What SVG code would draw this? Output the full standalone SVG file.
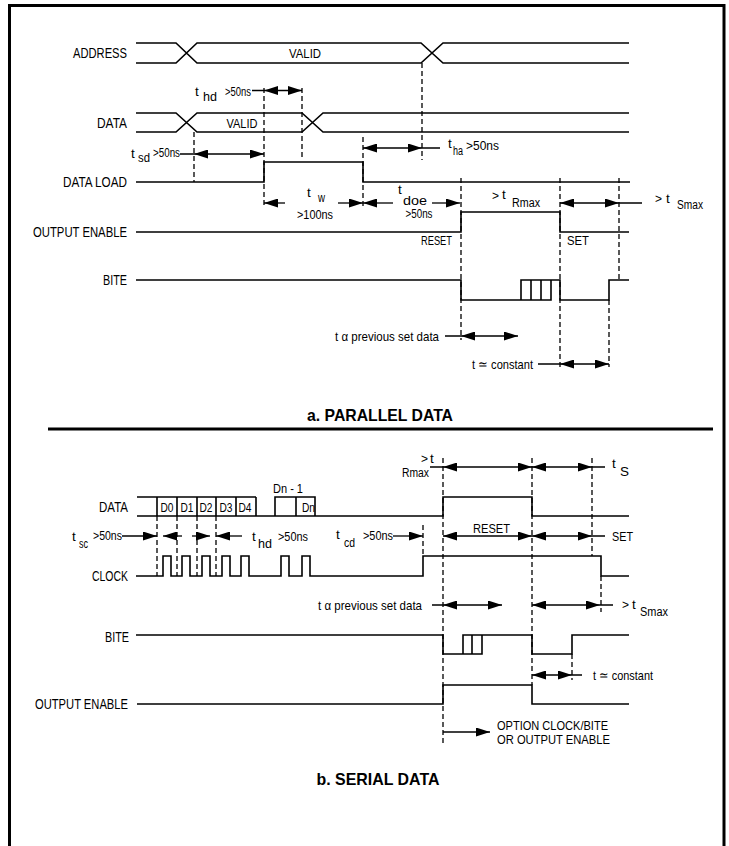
<svg xmlns="http://www.w3.org/2000/svg" width="729" height="846" viewBox="0 0 729 846">
<defs>
<marker id="ah" viewBox="0 0 14 9" refX="14" refY="4.5" markerWidth="14" markerHeight="9" markerUnits="userSpaceOnUse" orient="auto-start-reverse"><path d="M0,0 L14,4.5 L0,9 z" fill="#000"/></marker>
</defs>
<style>
.sig{fill:none;stroke:#000;stroke-width:1.6}
.dash{fill:none;stroke:#000;stroke-width:1.3;stroke-dasharray:5,3}
.arr{fill:none;stroke:#000;stroke-width:1.3}
.ab{marker-start:url(#ah);marker-end:url(#ah)}
.ae{marker-end:url(#ah)}
.as{marker-start:url(#ah)}
text{font-family:"Liberation Sans",Arial,sans-serif;fill:#000}
.lb{font-size:14px;text-anchor:end}
.t{font-size:13.5px}
.s{font-size:12px}
.m{text-anchor:middle}
.e{text-anchor:end}
.ttl{font-size:16.5px;font-weight:bold;text-anchor:middle}
</style>
<rect width="729" height="846" fill="#fff"/>
<path d="M9.5,846 V5.5 H724 V846" fill="none" stroke="#000" stroke-width="3"/>
<line x1="48" y1="429" x2="713" y2="429" stroke="#000" stroke-width="3"/>

<!-- PARALLEL -->
<g id="p-address">
<text class="lb" x="127" y="58" textLength="54" lengthAdjust="spacingAndGlyphs">ADDRESS</text>
<path class="sig" d="M136,43 H176 L197,63 H421 L443,43 H629 M136,63 H176 L197,43 H421 L443,63 H629"/>
<text class="t m" x="305" y="58" textLength="32" lengthAdjust="spacingAndGlyphs">VALID</text>
</g>
<g id="p-data">
<text class="lb" x="127" y="128" textLength="30" lengthAdjust="spacingAndGlyphs">DATA</text>
<path class="sig" d="M136,113 H176 L197,132 H302 L323,113 H629 M136,132 H176 L197,113 H302 L323,132 H629"/>
<text class="t m" x="242" y="128" textLength="31" lengthAdjust="spacingAndGlyphs">VALID</text>
</g>
<g id="p-dataload">
<text class="lb" x="127" y="187" textLength="64" lengthAdjust="spacingAndGlyphs">DATA LOAD</text>
<path class="sig" d="M136,182 H264 V162 H363 V182 H630"/>
</g>
<g id="p-oe">
<text class="lb" x="127" y="237" textLength="94" lengthAdjust="spacingAndGlyphs">OUTPUT ENABLE</text>
<path class="sig" d="M136,232 H461 V212 H560 V232 H629"/>
<text class="t e" x="452" y="245" textLength="31" lengthAdjust="spacingAndGlyphs">RESET</text>
<text class="t" x="567" y="245" textLength="22" lengthAdjust="spacingAndGlyphs">SET</text>
</g>
<g id="p-bite">
<text class="lb" x="127" y="285" textLength="24" lengthAdjust="spacingAndGlyphs">BITE</text>
<path class="sig" d="M136,280 H461 V300 H551 V280 M521,300 V280 H560 V300 H609 V280 H629 M531,280 V300 M541,280 V300"/>
</g>
<g id="p-labels">
<text class="t" x="195" y="96">t</text><text class="s" x="203" y="101" textLength="14" lengthAdjust="spacingAndGlyphs">hd</text><text class="s" x="225" y="96" textLength="26" lengthAdjust="spacingAndGlyphs">&gt;50ns</text>
<text class="t" x="131" y="158">t</text><text class="s" x="138" y="162" textLength="12" lengthAdjust="spacingAndGlyphs">sd</text><text class="s" x="153" y="157" textLength="27" lengthAdjust="spacingAndGlyphs">&gt;50ns</text>
<text class="t" x="448" y="148">t</text><text class="s" x="453" y="155" textLength="10" lengthAdjust="spacingAndGlyphs">ha</text><text class="s" x="466" y="150" textLength="33" lengthAdjust="spacingAndGlyphs">&gt;50ns</text>
<text class="t" x="307" y="197">t</text><text class="s" x="318" y="202" textLength="7" lengthAdjust="spacingAndGlyphs">w</text><text class="s m" x="315" y="219" textLength="36" lengthAdjust="spacingAndGlyphs">&gt;100ns</text>
<text class="t" x="398" y="194">t</text><text class="s" x="403" y="205" textLength="24" lengthAdjust="spacingAndGlyphs">doe</text><text class="s m" x="419" y="218" textLength="27" lengthAdjust="spacingAndGlyphs">&gt;50ns</text>
<text class="s" x="492" y="200">&gt;</text><text class="t" x="502" y="199">t</text><text class="s" x="512" y="207" textLength="28" lengthAdjust="spacingAndGlyphs">Rmax</text>
<text class="s" x="655" y="203">&gt;</text><text class="t" x="666" y="203">t</text><text class="s" x="677" y="209" textLength="26" lengthAdjust="spacingAndGlyphs">Smax</text>
<text class="t e" x="439" y="341" textLength="104" lengthAdjust="spacingAndGlyphs">t α previous set data</text>
<text class="t" x="472" y="369" textLength="61" lengthAdjust="spacingAndGlyphs">t ≃ constant</text>
<text class="ttl" x="380" y="421" textLength="146" lengthAdjust="spacingAndGlyphs">a. PARALLEL DATA</text>
</g>

<!-- SERIAL -->
<g id="s-data">
<text class="lb" x="128" y="512" textLength="29" lengthAdjust="spacingAndGlyphs">DATA</text>
<path class="sig" d="M137,497 H256 M137,516 H443 V497 H532 V516 H629 M157,497 V516 M177,497 V516 M197,497 V516 M216,497 V516 M236,497 V516 M256,497 V516 M275,516 V497 H315 V516 M296,497 V516"/>
<text class="t m" x="167" y="512" textLength="13" lengthAdjust="spacingAndGlyphs">D0</text>
<text class="t m" x="187" y="512" textLength="13" lengthAdjust="spacingAndGlyphs">D1</text>
<text class="t m" x="206" y="512" textLength="13" lengthAdjust="spacingAndGlyphs">D2</text>
<text class="t m" x="226" y="512" textLength="13" lengthAdjust="spacingAndGlyphs">D3</text>
<text class="t m" x="245" y="512" textLength="13" lengthAdjust="spacingAndGlyphs">D4</text>
<text class="t" x="273" y="493" textLength="30" lengthAdjust="spacingAndGlyphs">Dn - 1</text>
<text class="t" x="302" y="512" textLength="13" lengthAdjust="spacingAndGlyphs">Dn</text>
</g>
<g id="s-clock">
<text class="lb" x="128" y="581" textLength="36" lengthAdjust="spacingAndGlyphs">CLOCK</text>
<path class="sig" d="M136,576 H163 V556 H171 V576 H182 V556 H190 V576 H202 V556 H210 V576 H222 V556 H230 V576 H241 V556 H249 V576 H281 V556 H289 V576 H302 V556 H310 V576 H423 V556 H601 V576 H629"/>
</g>
<g id="s-bite">
<text class="lb" x="129" y="642" textLength="24" lengthAdjust="spacingAndGlyphs">BITE</text>
<path class="sig" d="M136,635 H443 V654 H482 V635 M463,654 V635 H532 V654 H572 V635 H629 M472,635 V654"/>
</g>
<g id="s-oe">
<text class="lb" x="128" y="709" textLength="93" lengthAdjust="spacingAndGlyphs">OUTPUT ENABLE</text>
<path class="sig" d="M137,704 H443 V685 H532 V704 H629"/>
</g>
<g id="s-labels">
<text class="t" x="72" y="541">t</text><text class="s" x="79" y="548" textLength="9" lengthAdjust="spacingAndGlyphs">sc</text><text class="s" x="93" y="540" textLength="29" lengthAdjust="spacingAndGlyphs">&gt;50ns</text>
<text class="t" x="252" y="541">t</text><text class="s" x="258" y="548" textLength="14" lengthAdjust="spacingAndGlyphs">hd</text><text class="s" x="278" y="541" textLength="30" lengthAdjust="spacingAndGlyphs">&gt;50ns</text>
<text class="t" x="336" y="539">t</text><text class="s" x="344" y="547" textLength="11" lengthAdjust="spacingAndGlyphs">cd</text><text class="s" x="363" y="540" textLength="30" lengthAdjust="spacingAndGlyphs">&gt;50ns</text>
<text class="t" x="473" y="533" textLength="37" lengthAdjust="spacingAndGlyphs">RESET</text>
<text class="t" x="612" y="541" textLength="21" lengthAdjust="spacingAndGlyphs">SET</text>
<text class="s" x="421" y="463">&gt;</text><text class="t" x="430" y="463">t</text><text class="s" x="402" y="477" textLength="27" lengthAdjust="spacingAndGlyphs">Rmax</text>
<text class="t" x="612" y="468">t</text><text class="t" x="620" y="476">S</text>
<text class="t e" x="422" y="610" textLength="104" lengthAdjust="spacingAndGlyphs">t α previous set data</text>
<text class="s" x="622" y="609">&gt;</text><text class="t" x="632" y="609">t</text><text class="s" x="640" y="616" textLength="28" lengthAdjust="spacingAndGlyphs">Smax</text>
<text class="t" x="593" y="680" textLength="60" lengthAdjust="spacingAndGlyphs">t ≃ constant</text>
<text class="t" x="497" y="730" textLength="111" lengthAdjust="spacingAndGlyphs">OPTION CLOCK/BITE</text>
<text class="t" x="497" y="744" textLength="113" lengthAdjust="spacingAndGlyphs">OR OUTPUT ENABLE</text>
<text class="ttl" x="378" y="785" textLength="123" lengthAdjust="spacingAndGlyphs">b. SERIAL DATA</text>
</g>

<g id="connectors">
<path class="dash" d="M194,132 V182 M264,88 V205 M302,88 V160 M363,137 V206 M422,63 V160 M461,178 V340 M560,178 V367 M619,178 V280 M609,300 V367"/>
<path class="arr" d="M252,90.5 H264 M180,154 H194 M422,148 H440 M619,203 H642 M445,336 H461 M538,364 H560"/>
<path class="arr ab" d="M264,90.5 H302"/>
<path class="arr ab" d="M194,154 H264"/>
<path class="arr ab" d="M363,148 H422"/>
<path class="arr as" d="M264,203 H285"/>
<path class="arr ae" d="M338,203 H363"/>
<path class="arr as" d="M363,203 H393"/>
<path class="arr ae" d="M432,203 H460"/>
<path class="arr ab" d="M560,203 H619"/>
<path class="arr ab" d="M461,336 H518"/>
<path class="arr ab" d="M560,364 H609"/>
<path class="dash" d="M157,516 V576 M177,516 V576 M197,516 V576 M216,516 V576 M423,525 V556 M443,458 V743 M532,458 V685 M592,458 V556 M601,576 V612 M572,654 V680"/>
<path class="arr ae" d="M122,536 H157"/>
<path class="arr as" d="M163,536 H182"/>
<path class="arr ae" d="M192,536 H210"/>
<path class="arr as" d="M216,536 H242"/>
<path class="arr ae" d="M393,536 H423"/>
<path class="arr ab" d="M443,536 H532"/>
<path class="arr ab" d="M532,536 H592"/>
<path class="arr" d="M592,536 H605 M430,467 H443 M592,467 H605 M432,605 H443 M600,605 H613 M572,675 H582"/>
<path class="arr ab" d="M443,467 H532"/>
<path class="arr ab" d="M532,467 H592"/>
<path class="arr ab" d="M443,605 H502"/>
<path class="arr ab" d="M532,605 H600"/>
<path class="arr ab" d="M532,675 H572"/>
<path class="arr ae" d="M443,732 H490"/>
</g>
</svg>
